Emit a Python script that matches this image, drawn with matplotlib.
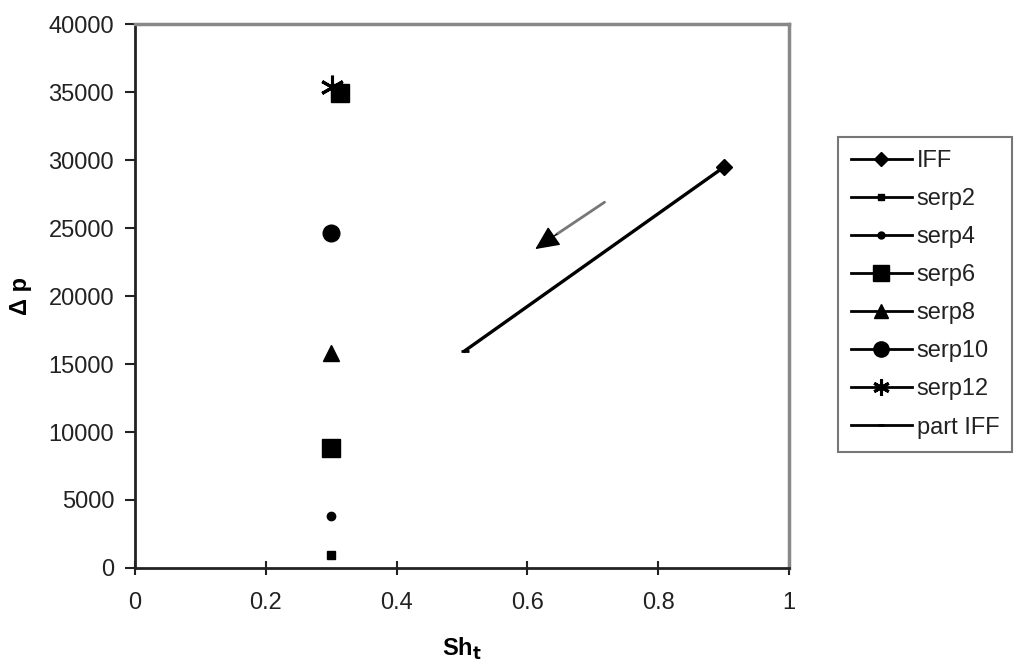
import matplotlib.pyplot as plt
from matplotlib.lines import Line2D

plt.rcParams['font.family'] = ['Liberation Sans', 'DejaVu Sans']

# === Data ===
iff_x = [0.901]
iff_y = [29500]
serp2_x = [0.30]
serp2_y = [960]
serp4_x = [0.30]
serp4_y = [3850]
serp6_x = [0.30, 0.313]
serp6_y = [8820, 34900]
serp8_x = [0.30]
serp8_y = [15800]
serp10_x = [0.30]
serp10_y = [24630]
serp12_x = [0.302]
serp12_y = [35350]
part_iff_x = [0.504, 0.901]
part_iff_y = [15960, 29500]

arrow_start = (0.718, 26900)
arrow_base = (0.645, 24550)
arrow_end = (0.612, 23450)

x_ticks = [0, 0.2, 0.4, 0.6, 0.8, 1]
x_tick_labels = ["0", "0.2", "0.4", "0.6", "0.8", "1"]
y_ticks = [0, 5000, 10000, 15000, 20000, 25000, 30000, 35000, 40000]

# === Figure ===
fig = plt.figure(figsize=(10.24, 6.69), dpi=100)
ax = fig.add_axes([0.1318, 0.151, 0.6387, 0.813])

ax.plot(part_iff_x, part_iff_y, color="black", lw=2.4, marker="_", ms=6, mew=2)
ax.plot(iff_x, iff_y, color="black", lw=0, marker="D", ms=8)
ax.plot(serp2_x, serp2_y, color="black", lw=0, marker="s", ms=6)
ax.plot(serp4_x, serp4_y, color="black", lw=0, marker="o", ms=6)
ax.plot(serp6_x, serp6_y, color="black", lw=0, marker="s", ms=13)
ax.plot(serp8_x, serp8_y, color="black", lw=0, marker="^", ms=11)
ax.plot(serp10_x, serp10_y, color="black", lw=0, marker="o", ms=12)
ax.plot(serp12_x, serp12_y, color="black", lw=0, marker=(6, 2, 0), ms=17, mew=2.2)

# gray arrow shaft with black head
ax.annotate("", xy=arrow_base, xytext=arrow_start,
            arrowprops=dict(arrowstyle="-", color="#777777", lw=2,
                            shrinkA=0, shrinkB=0))
ax.annotate("", xy=arrow_end, xytext=arrow_base,
            arrowprops=dict(arrowstyle="-|>,head_length=1.5,head_width=0.7",
                            color="black", lw=1, shrinkA=0, shrinkB=0))

ax.set_xlim(0, 1)
ax.set_ylim(0, 40000)
ax.set_xticks(x_ticks)
ax.set_xticklabels(x_tick_labels)
ax.set_yticks(y_ticks)
ax.tick_params(axis="both", labelsize=17, colors="#222222", width=1.5)
ax.tick_params(axis="x", direction="inout", length=10, pad=12)
ax.tick_params(axis="y", direction="out", length=7, pad=8)

for side in ["left", "bottom"]:
    ax.spines[side].set_color("#222222")
    ax.spines[side].set_linewidth(2)
for side in ["top", "right"]:
    ax.spines[side].set_color("#888888")
    ax.spines[side].set_linewidth(2.5)

ax.set_xlabel("Sh$_\\mathbf{t}$", fontsize=17, fontweight="bold", labelpad=16)
ax.set_ylabel("Δ p", fontsize=17, fontweight="bold", labelpad=12)

# === Legend ===
handles = [
    Line2D([], [], color="black", lw=2, marker="D", ms=7),
    Line2D([], [], color="black", lw=2, marker="s", ms=5),
    Line2D([], [], color="black", lw=2, marker="o", ms=5),
    Line2D([], [], color="black", lw=2, marker="s", ms=11),
    Line2D([], [], color="black", lw=2, marker="^", ms=10),
    Line2D([], [], color="black", lw=2, marker="o", ms=11),
    Line2D([], [], color="black", lw=2, marker=(6, 2, 0), ms=12, mew=2.2),
    Line2D([], [], color="black", lw=2, marker="_", ms=5, mew=2),
]
labels = ["IFF", "serp2", "serp4", "serp6", "serp8", "serp10", "serp12", "part IFF"]
leg = fig.legend(handles, labels, loc="upper left", bbox_to_anchor=(0.818, 0.795),
                 borderaxespad=0, fontsize=17, frameon=True, fancybox=False,
                 handlelength=2.6, handletextpad=0.2, labelspacing=0.68,
                 borderpad=0.55, labelcolor="#222222")
leg.get_frame().set_edgecolor("#555555")
leg.get_frame().set_linewidth(1.5)

fig.savefig("out.png", dpi=100)
